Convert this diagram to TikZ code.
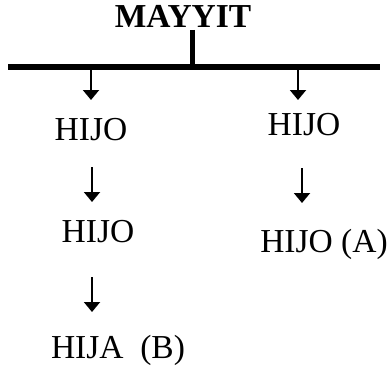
\documentclass[tikz,border=0pt]{standalone}
\usepackage{fontspec}
\setmainfont{Liberation Serif}
\usetikzlibrary{arrows.meta}
\begin{document}
\begin{tikzpicture}[x=1pt,y=1pt,
  lbl/.style={anchor=base,inner sep=0pt,font=\fontsize{33.5}{40}\selectfont},
  arr/.style={line width=2pt,-{Triangle[width=16pt,length=10pt]}}]
\useasboundingbox (0,0) rectangle (390,365);
\node[lbl,font=\fontsize{33.5}{40}\selectfont\bfseries] (m) at (183,337) {MAYYIT};
\coordinate (bl) at (8,298);
\coordinate (br) at (380,298);
\coordinate (st) at (192,335);
\coordinate (sb) at (192,298);
\coordinate (bL) at (91,298);
\coordinate (bR) at (298,298);
\draw[line width=6pt] (bl) -- (br);
\draw[line width=5pt] (st) -- (sb);
\node[lbl] (h1) at (91,225) {HIJO};
\node[lbl] (r1) at (304,230) {HIJO};
\node[lbl] (h2) at (98,123) {HIJO};
\node[lbl] (h3) at (118,7) {HIJA\ \ (B)};
\node[lbl] (rA) at (324,113) {HIJO (A)};
\coordinate (a1e) at (91,265);
\coordinate (b1e) at (298,265);
\coordinate (a2s) at (92,198);
\coordinate (a2e) at (92,163);
\coordinate (a3s) at (92,88);
\coordinate (a3e) at (92,53);
\coordinate (b2s) at (302,197);
\coordinate (b2e) at (302,162);
\draw[arr] (bL) -- (a1e);
\draw[arr] (bR) -- (b1e);
\draw[arr] (a2s) -- (a2e);
\draw[arr] (a3s) -- (a3e);
\draw[arr] (b2s) -- (b2e);
\end{tikzpicture}
\end{document}
